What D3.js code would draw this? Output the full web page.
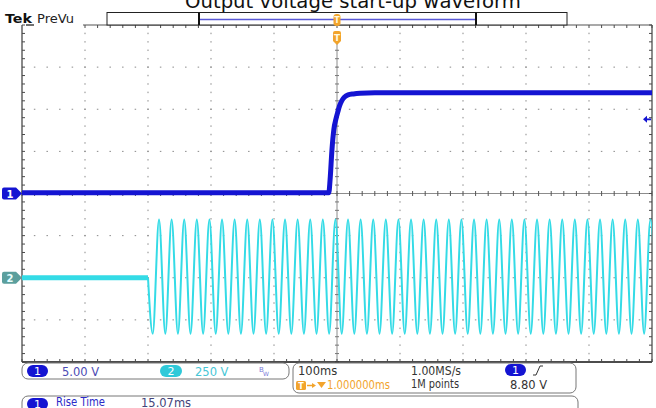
<!DOCTYPE html>
<html>
<head>
<meta charset="utf-8">
<script src="https://cdn.jsdelivr.net/npm/d3@7"></script>
<style>
  html, body { margin: 0; padding: 0; background: #fff; }
  svg { display: block; }
  text { font-family: "DejaVu Sans", sans-serif; }
</style>
</head>
<body>
<script>
// ---------------- DATA ----------------
const title = "Output voltage start-up waveform";
const timeDomainMs = [-500, 500];      // 100 ms/div, 10 divisions, trigger at centre
const divDomain = [-4, 4];             // 8 vertical divisions
const ch1Scale = 5;                    // V/div
const ch2Scale = 250;                  // V/div
const ch1OffsetDiv = 0;
const ch2OffsetDiv = -2;
const triggerLevel = 8.80;             // V

// Channel 1: output voltage
const ch1Times = [-500, -13, -11, -8, -5, -1.5, 1, 4, 7.5, 12, 17.5, 26, 36.5, 60, 500];
const ch1Volts = [0.1, 0.1, 1.6, 5.2, 7.6, 8.9, 9.6, 10.4, 11.0, 11.45, 11.7, 11.82, 11.9, 11.95, 11.95];

// Channel 2: AC input; flat until switch-on, then 50 Hz sine (extrema listed)
const ch2FlatTimes = [-500, -300];
const ch2FlatVolts = [0, 0];
const ch2SwitchOn = -300;              // ms
const ch2ExtremaStart = -292.5;        // ms, time of first extremum
const ch2ExtremaStep = 10;             // ms between successive extrema
const ch2Extrema = [
  -332, 345, -332, 345, -332, 345, -332, 345, -332, 345,
  -332, 345, -332, 345, -332, 345, -332, 345, -332, 345,
  -332, 345, -332, 345, -332, 345, -332, 345, -332, 345,
  -332, 345, -332, 345, -332, 345, -332, 345, -332, 345,
  -332, 345, -332, 345, -332, 345, -332, 345, -332, 345,
  -332, 345, -332, 345, -332, 345, -332, 345, -332, 345,
  -332, 345, -332, 345, -332, 345, -332, 345, -332, 345,
  -332, 345, -332, 345, -332, 345, -332, 345, -332, 345,
  -332
];

// Readout texts
const ch1Label = "5.00 V";
const ch2Label = "250 V";
const timebaseLabel = "100ms";
const sampleRateLabel = "1.00MS/s";
const delayLabel = "1.000000ms";
const recordLabel = "1M points";
const trigLevelLabel = "8.80 V";
const measName = "Rise Time";
const measValue = "15.07ms";

// ---------------- COLOURS ----------------
const C1 = "#1414d2";
const C2 = "#34dbe6";
const ORANGE = "#f2a42c";

// ---------------- SETUP ----------------
const W = 656, H = 408;
const svg = d3.select("body").append("svg").attr("width", W).attr("height", H);

const x = d3.scaleLinear().domain(timeDomainMs).range([22, 652]);
const yDiv = d3.scaleLinear().domain(divDomain).range([362, 25]);
const y1 = v => yDiv(v / ch1Scale + ch1OffsetDiv);
const y2 = v => yDiv(v / ch2Scale + ch2OffsetDiv);

const xMinor = d3.range(-500, 500.001, 20);
const yMinor = d3.range(-4, 4.0001, 0.2);
const xMajorInner = [-400, -300, -200, -100, 100, 200, 300, 400];
const yMajorInner = [-3, -2, -1, 1, 2, 3];

// ---------------- TITLE ----------------
svg.append("text").attr("x", 353).attr("y", 8)
  .attr("text-anchor", "middle").attr("font-size", 19).attr("fill", "#111")
  .attr("textLength", 336).attr("lengthAdjust", "spacingAndGlyphs")
  .text(title);

// Tek PreVu
svg.append("text").attr("x", 5).attr("y", 23).attr("font-size", 13).attr("font-weight", "bold")
  .attr("fill", "#111").attr("textLength", 27).attr("lengthAdjust", "spacingAndGlyphs").text("Tek");
svg.append("line").attr("x1", 26).attr("x2", 34).attr("y1", 25).attr("y2", 25).attr("stroke", "#111").attr("stroke-width", 1.2);
svg.append("text").attr("x", 37).attr("y", 23).attr("font-size", 12.5)
  .attr("fill", "#222").attr("textLength", 37).attr("lengthAdjust", "spacingAndGlyphs").text("PreVu");

// ---------------- GRID ----------------
const grid = svg.append("g");
// vertical dotted gridlines
xMajorInner.forEach(t => {
  grid.selectAll(null).data(yMinor.slice(1, -1)).enter().append("rect")
    .attr("x", x(t) - 0.5).attr("y", d => yDiv(d) - 0.75).attr("width", 1).attr("height", 1.5)
    .attr("fill", "#8a8a8a");
});
// horizontal dotted gridlines
yMajorInner.forEach(v => {
  grid.selectAll(null).data(xMinor.slice(1, -1)).enter().append("rect")
    .attr("x", d => x(d) - 0.75).attr("y", yDiv(v) - 0.5).attr("width", 1.5).attr("height", 1)
    .attr("fill", "#8a8a8a");
});

// centre cross lines
grid.append("line").attr("x1", x(0)).attr("x2", x(0)).attr("y1", 44).attr("y2", yDiv(-4))
  .attr("stroke", "#8c8c8c").attr("stroke-width", 1);
grid.append("line").attr("x1", x(-500)).attr("x2", x(500)).attr("y1", yDiv(0)).attr("y2", yDiv(0))
  .attr("stroke", "#8c8c8c").attr("stroke-width", 1.2);
grid.selectAll(null).data(yMinor).enter().append("line")
  .attr("x1", x(0) - 2).attr("x2", x(0) + 2).attr("y1", d => yDiv(d)).attr("y2", d => yDiv(d))
  .attr("stroke", "#777").attr("stroke-width", 1);
grid.selectAll(null).data(xMinor).enter().append("line")
  .attr("x1", d => x(d)).attr("x2", d => x(d)).attr("y1", yDiv(0) - 2.5).attr("y2", yDiv(0) + 2.5)
  .attr("stroke", "#555").attr("stroke-width", 1);

// borders
const bc = "#4a4a4a";
grid.append("line").attr("x1", x(-500)).attr("x2", x(-500)).attr("y1", yDiv(4)).attr("y2", yDiv(-4)).attr("stroke", bc).attr("stroke-width", 1.3);
grid.append("line").attr("x1", x(500)).attr("x2", x(500)).attr("y1", yDiv(4)).attr("y2", yDiv(-4)).attr("stroke", "#666").attr("stroke-width", 1.5);
grid.append("line").attr("x1", 83).attr("x2", x(500)).attr("y1", yDiv(4)).attr("y2", yDiv(4)).attr("stroke", "#555").attr("stroke-width", 1.2);
grid.append("line").attr("x1", x(-500)).attr("x2", x(500)).attr("y1", yDiv(-4)).attr("y2", yDiv(-4)).attr("stroke", "#111").attr("stroke-width", 1.6);
// border ticks
grid.selectAll(null).data(yMinor).enter().append("line")
  .attr("x1", x(-500)).attr("x2", x(-500) + 3).attr("y1", d => yDiv(d)).attr("y2", d => yDiv(d))
  .attr("stroke", bc).attr("stroke-width", 1);
grid.selectAll(null).data(yMinor).enter().append("line")
  .attr("x1", x(500) - 3).attr("x2", x(500)).attr("y1", d => yDiv(d)).attr("y2", d => yDiv(d))
  .attr("stroke", bc).attr("stroke-width", 1);
grid.selectAll(null).data(xMinor.filter(d => x(d) >= 83)).enter().append("line")
  .attr("x1", d => x(d)).attr("x2", d => x(d)).attr("y1", yDiv(4)).attr("y2", yDiv(4) + 3)
  .attr("stroke", bc).attr("stroke-width", 1);
grid.selectAll(null).data(xMinor).enter().append("line")
  .attr("x1", d => x(d)).attr("x2", d => x(d)).attr("y1", yDiv(-4) - 3).attr("y2", yDiv(-4))
  .attr("stroke", bc).attr("stroke-width", 1);

// ---------------- RECORD VIEW BAR ----------------
svg.append("rect").attr("x", 107).attr("y", 12.5).attr("width", 460).attr("height", 12.5)
  .attr("fill", "#fff").attr("stroke", "#222").attr("stroke-width", 1);
svg.append("line").attr("x1", 199).attr("x2", 476).attr("y1", 19.5).attr("y2", 19.5)
  .attr("stroke", "#5a5ad8").attr("stroke-width", 1.3);
[199, 476].forEach(xx => svg.append("line").attr("x1", xx).attr("x2", xx).attr("y1", 12.5).attr("y2", 25)
  .attr("stroke", "#111").attr("stroke-width", 2));

// ---------------- TRACES ----------------
svg.append("clipPath").attr("id", "plotclip").append("rect")
  .attr("x", x(-500)).attr("y", yDiv(4)).attr("width", x(500) - x(-500)).attr("height", yDiv(-4) - yDiv(4));
const traces = svg.append("g").attr("clip-path", "url(#plotclip)");

// ch2 flat part
const ch2Flat = ch2FlatTimes.map((t, i) => [t, ch2FlatVolts[i]]);
traces.append("path").datum(ch2Flat)
  .attr("d", d3.line().x(d => x(d[0])).y(d => y2(d[1])))
  .attr("fill", "none").attr("stroke", C2).attr("stroke-width", 5);
// ch2 sine
const ch2Pts = [[ch2SwitchOn, 0]].concat(ch2Extrema.map((v, i) => [ch2ExtremaStart + i * ch2ExtremaStep, v]));
traces.append("path").datum(ch2Pts)
  .attr("d", d3.line().x(d => x(d[0])).y(d => y2(d[1])).curve(d3.curveMonotoneX))
  .attr("fill", "none").attr("stroke", C2).attr("stroke-width", 2);

// ch1
const ch1Pts = ch1Times.map((t, i) => [t, ch1Volts[i]]);
traces.append("path").datum(ch1Pts)
  .attr("d", d3.line().x(d => x(d[0])).y(d => y1(d[1])).curve(d3.curveMonotoneX))
  .attr("fill", "none").attr("stroke", C1).attr("stroke-width", 5).attr("stroke-linejoin", "round");

// ---------------- MARKERS ----------------
function chanMarker(yc, fill, label, txtFill) {
  svg.append("path")
    .attr("d", `M4,${yc - 6} H16 L22,${yc} L16,${yc + 6} H4 Q2,${yc + 6} 2,${yc + 4} V${yc - 4} Q2,${yc - 6} 4,${yc - 6} Z`)
    .attr("fill", fill);
  svg.append("text").attr("x", 10).attr("y", yc + 4).attr("text-anchor", "middle")
    .attr("font-size", 10).attr("font-weight", "bold").attr("fill", txtFill).text(label);
}
chanMarker(y1(0), C1, "1", "#fff");
chanMarker(y2(0), "#5b9f9d", "2", "#e8ffff");

// trigger level arrow (right side)
const yt = y1(triggerLevel);
svg.append("line").attr("x1", 645).attr("x2", 651).attr("y1", yt).attr("y2", yt).attr("stroke", C1).attr("stroke-width", 1.8);
svg.append("path").attr("d", `M643,${yt} L647,${yt - 3.5} L647,${yt + 3.5} Z`).attr("fill", C1);

// trigger position markers (top)
const xt = x(0);
svg.append("rect").attr("x", xt - 3.5).attr("y", 14).attr("width", 7).attr("height", 12).attr("rx", 3).attr("fill", ORANGE);
svg.append("text").attr("x", xt).attr("y", 23).attr("text-anchor", "middle").attr("font-size", 8).attr("font-weight", "bold").attr("fill", "#fff8e0").text("T");
svg.append("path").attr("d", `M${xt - 4},33 Q${xt - 4},31 ${xt - 2},31 H${xt + 2} Q${xt + 4},31 ${xt + 4},33 V41 L${xt},45 L${xt - 4},41 Z`).attr("fill", ORANGE);
svg.append("text").attr("x", xt).attr("y", 41).attr("text-anchor", "middle").attr("font-size", 9).attr("font-weight", "bold").attr("fill", "#fff8e0").text("T");

// ---------------- READOUT PANELS ----------------
function badge(x0, y0, w, h, fill, label) {
  svg.append("rect").attr("x", x0).attr("y", y0).attr("width", w).attr("height", h).attr("rx", h / 2).attr("fill", fill);
  svg.append("text").attr("x", x0 + w / 2).attr("y", y0 + h - 2.5).attr("text-anchor", "middle")
    .attr("font-size", 11).attr("fill", "#fff").text(label);
}
// panel 1
svg.append("rect").attr("x", 22).attr("y", 363).attr("width", 267).attr("height", 16).attr("rx", 6)
  .attr("fill", "none").attr("stroke", "#777").attr("stroke-width", 1);
badge(27, 365, 21, 12, C1, "1");
svg.append("text").attr("x", 62).attr("y", 376).attr("font-size", 11.5).attr("fill", "#4b4bb4").text(ch1Label);
badge(160, 365, 22, 12, "#2fc9d9", "2");
svg.append("text").attr("x", 195).attr("y", 376).attr("font-size", 11.5).attr("fill", "#46c6d6").text(ch2Label);
svg.append("text").attr("x", 259).attr("y", 372).attr("font-size", 7).attr("fill", "#7b7bd8").text("B");
svg.append("text").attr("x", 263).attr("y", 376).attr("font-size", 6).attr("fill", "#7b7bd8").text("W");

// panel 2
svg.append("rect").attr("x", 293).attr("y", 363).attr("width", 283).attr("height", 30).attr("rx", 6)
  .attr("fill", "none").attr("stroke", "#777").attr("stroke-width", 1);
svg.append("text").attr("x", 298).attr("y", 375).attr("font-size", 11.5).attr("fill", "#333").text(timebaseLabel);
svg.append("text").attr("x", 411).attr("y", 375).attr("font-size", 11.5).attr("fill", "#333")
  .attr("textLength", 50).attr("lengthAdjust", "spacingAndGlyphs").text(sampleRateLabel);
badge(505, 364, 21, 12, C1, "1");
svg.append("path").attr("d", "M533,375 H536 L540,366 H543").attr("fill", "none").attr("stroke", "#333").attr("stroke-width", 1);
svg.append("rect").attr("x", 296).attr("y", 381).attr("width", 10).attr("height", 9).attr("rx", 1.5).attr("fill", ORANGE);
svg.append("text").attr("x", 301).attr("y", 389).attr("text-anchor", "middle").attr("font-size", 8).attr("font-weight", "bold").attr("fill", "#fff").text("T");
svg.append("line").attr("x1", 307).attr("x2", 313).attr("y1", 385.5).attr("y2", 385.5).attr("stroke", ORANGE).attr("stroke-width", 1.5);
svg.append("path").attr("d", "M316,385.5 L312,383 L312,388 Z").attr("fill", ORANGE);
svg.append("path").attr("d", "M317,382 L326,382 L321.5,388 Z").attr("fill", ORANGE);
svg.append("text").attr("x", 327).attr("y", 389).attr("font-size", 11.5).attr("fill", ORANGE)
  .attr("textLength", 63).attr("lengthAdjust", "spacingAndGlyphs").text(delayLabel);
svg.append("text").attr("x", 411).attr("y", 388).attr("font-size", 11.5).attr("fill", "#333")
  .attr("textLength", 48).attr("lengthAdjust", "spacingAndGlyphs").text(recordLabel);
svg.append("text").attr("x", 510).attr("y", 389).attr("font-size", 11.5).attr("fill", "#333").text(trigLevelLabel);

// panel 3 (measurement)
svg.append("rect").attr("x", 22).attr("y", 396).attr("width", 556).attr("height", 30).attr("rx", 6)
  .attr("fill", "none").attr("stroke", "#777").attr("stroke-width", 1);
badge(27, 398, 21, 12, C1, "1");
svg.append("text").attr("x", 56).attr("y", 406).attr("font-size", 11.5).attr("fill", "#2a2ac8")
  .attr("textLength", 49).attr("lengthAdjust", "spacingAndGlyphs").text(measName);
svg.append("text").attr("x", 141).attr("y", 407).attr("font-size", 11.5).attr("fill", "#44447a").text(measValue);
</script>
</body>
</html>
